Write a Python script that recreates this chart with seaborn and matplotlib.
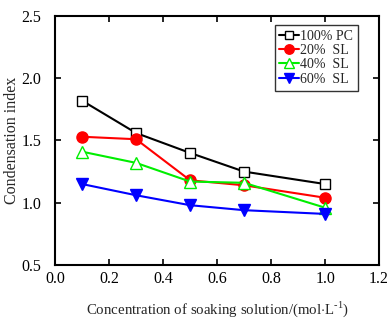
import matplotlib
matplotlib.use("Agg")
import matplotlib.pyplot as plt
import seaborn as sns
import pandas as pd

conc = [0.1, 0.3, 0.5, 0.7, 1.0]
pc100 = [1.82, 1.56, 1.40, 1.25, 1.15]
sl20 = [1.53, 1.51, 1.18, 1.14, 1.04]
sl40 = [1.41, 1.32, 1.17, 1.16, 0.96]
sl60 = [1.15, 1.06, 0.98, 0.94, 0.91]
labels = ["100% PC", "20%  SL", "40%  SL", "60%  SL"]

sns.set_style("ticks")
plt.rcParams['font.family'] = ['Liberation Serif', 'DejaVu Serif']
plt.rcParams['mathtext.fontset'] = 'custom'
plt.rcParams['mathtext.rm'] = 'Liberation Serif'

fig = plt.figure(figsize=(3.88, 3.20), dpi=100)
ax = fig.add_axes([0.142, 0.172, 0.835, 0.778])

styles = [
    dict(color='black', marker='s', mfc='white', mec='black', ms=7),
    dict(color='red', marker='o', mfc='red', mec='red', ms=8),
    dict(color='#00ee00', marker='^', mfc='white', mec='#00ee00', ms=9),
    dict(color='blue', marker='v', mfc='blue', mec='blue', ms=9),
]
for vals, lab, st in zip([pc100, sl20, sl40, sl60], labels, styles):
    df = pd.DataFrame({'x': conc, 'y': vals})
    sns.lineplot(data=df, x='x', y='y', ax=ax, label=lab, color=st['color'],
                 marker=st['marker'], markerfacecolor=st['mfc'],
                 markeredgecolor=st['mec'], markersize=st['ms'],
                 markeredgewidth=1.0, linewidth=1.5)

ax.set_xlim(0, 1.2)
ax.set_ylim(0.5, 2.5)
ax.set_xticks([0.0, 0.2, 0.4, 0.6, 0.8, 1.0, 1.2])
ax.set_yticks([0.5, 1.0, 1.5, 2.0, 2.5])
ax.xaxis.set_major_formatter(matplotlib.ticker.FormatStrFormatter('%.1f'))
ax.yaxis.set_major_formatter(matplotlib.ticker.FormatStrFormatter('%.1f'))
ax.tick_params(direction='in', top=True, right=True, length=4, width=1.2,
               labelsize=11.5, colors='black')
ax.tick_params(axis='x', pad=4)
ax.tick_params(axis='y', pad=10)
for s in ax.spines.values():
    s.set_linewidth(1.5)
    s.set_color('black')
ax.set_xlabel(r"Concentration of soaking solution/(mol$\cdot$L$^{\text{-1}}$)", fontsize=10.7, labelpad=9)
ax.set_ylabel("Condensation index", fontsize=11.5, labelpad=1)
leg = ax.legend(loc='upper right', bbox_to_anchor=(0.935, 0.965), fontsize=10,
                frameon=True, fancybox=False, edgecolor='black',
                handlelength=1.4, handletextpad=0.1, borderpad=0.35,
                labelspacing=0.1, markerscale=0.85, borderaxespad=0)
leg.get_frame().set_linewidth(1.0)
fig.savefig("out.png", dpi=100)
